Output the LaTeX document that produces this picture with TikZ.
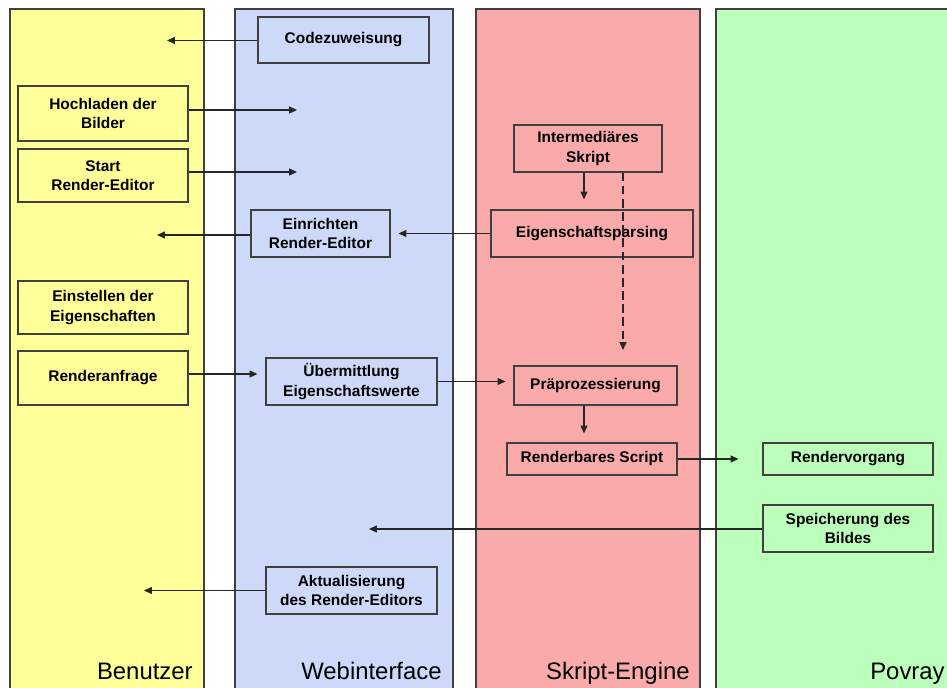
\documentclass[tikz,border=0pt]{standalone}
\usepackage{fontspec}
\setmainfont{Liberation Sans}
\usetikzlibrary{arrows.meta, positioning}
\definecolor{usercol}{RGB}{255,255,153}
\definecolor{webcol}{RGB}{204,217,248}
\definecolor{enginecol}{RGB}{250,170,170}
\definecolor{povcol}{RGB}{187,255,187}
\tikzset{
    lane/.style={draw=black!75, line width=0.6pt},
    box/.style={rectangle, draw=black!75, line width=0.6pt, align=center, inner sep=0pt, font=\fontsize{8.8}{11}\selectfont\bfseries},
    userbox/.style={box, fill=usercol},
    webbox/.style={box, fill=webcol},
    enginebox/.style={box, fill=enginecol},
    povbox/.style={box, fill=povcol},
    arrow/.style={-{Triangle[length=4.5pt,width=4pt]}, line width=0.6pt, draw=black!85},
    dashedarrow/.style={arrow, dash pattern=on 5pt off 2.5pt},
    lanelabel/.style={font=\fontsize{13.6}{16}\selectfont, inner sep=0pt, anchor=base east},
}
\begin{document}
\begin{tikzpicture}[x=0.02cm, y=-0.02cm]
    \useasboundingbox (0,0) rectangle (947,688);
    \clip (0,0) rectangle (947,688);
    % lanes
    \filldraw[lane, fill=usercol] (10,9) rectangle (204,700);
    \filldraw[lane, fill=webcol] (235,9) rectangle (453,700);
    \filldraw[lane, fill=enginecol] (476,9) rectangle (700,700);
    \filldraw[lane, fill=povcol] (716,9) rectangle (960,700);
    \node[lanelabel] (benutzer) at (193,680) {Benutzer};
    \node[lanelabel] (webinterface) at (442,680) {Webinterface};
    \node[lanelabel] (engine) at (690,680) {Skript-Engine};
    \node[lanelabel] (povray) at (945,680) {Povray};
    % Benutzer
    \node[userbox, minimum width=3.4cm, minimum height=1.1cm] (hochladen) at (103,113.5) {Hochladen der\\Bilder};
    \node[userbox, minimum width=3.4cm, minimum height=1.06cm] (start) at (103,175.5) {Start\\Render-Editor};
    \node[userbox, minimum width=3.4cm, minimum height=1.06cm] (einstellen) at (103,307.5) {Einstellen der\\Eigenschaften};
    \node[userbox, minimum width=3.4cm, minimum height=1.08cm] (anfrage) at (103,378) {Renderanfrage};
    % Webinterface
    \node[webbox, minimum width=3.42cm, minimum height=0.92cm] (code) at (343.5,40) {Codezuweisung};
    \node[webbox, minimum width=2.78cm, minimum height=0.94cm] (einrichten) at (320.5,233.5) {Einrichten\\Render-Editor};
    \node[webbox, minimum width=3.42cm, minimum height=0.94cm] (uebermittlung) at (351.5,381.5) {Übermittlung\\Eigenschaftswerte};
    \node[webbox, minimum width=3.42cm, minimum height=0.94cm] (aktual) at (351.5,590.5) {Aktualisierung\\des Render-Editors};
    % Skript-Engine
    \node[enginebox, minimum width=2.96cm, minimum height=0.94cm] (inter) at (588,148.5) {Intermediäres\\Skript};
    \node[enginebox, minimum width=4.04cm, minimum height=0.94cm] (parsing) at (592,233.5) {Eigenschaftsparsing};
    \node[enginebox, minimum width=3.26cm, minimum height=0.78cm] (prae) at (595.5,385.5) {Präprozessierung};
    \node[enginebox, minimum width=3.4cm, minimum height=0.64cm] (rscript) at (592,459) {Renderbares Script};
    % Povray
    \node[povbox, minimum width=3.4cm, minimum height=0.64cm] (rvorgang) at (848,459) {Rendervorgang};
    \node[povbox, minimum width=3.4cm, minimum height=0.94cm] (speicher) at (848,528.5) {Speicherung des\\Bildes};
    % free ends
    \coordinate (code-end) at (167,40.5);
    \coordinate (hochladen-end) at (297,110);
    \coordinate (start-end) at (297,172);
    \coordinate (einrichten-end) at (157,235);
    \coordinate (dash-end) at (623,350);
    \coordinate (speicher-end) at (369,529);
    \coordinate (aktual-end) at (144,591);
    % arrows
    \draw[arrow] (code.west |- code-end) -- (code-end);
    \draw[arrow] (hochladen.east |- hochladen-end) -- (hochladen-end);
    \draw[arrow] (start.east |- start-end) -- (start-end);
    \draw[arrow] (einrichten.west |- einrichten-end) -- (einrichten-end);
    \draw[arrow, shorten >=0.16cm] (parsing.west) -- (einrichten.east);
    \draw[arrow, shorten >=0.2cm] ([xshift=-0.08cm]inter.south) -- ([xshift=-0.08cm]inter.south |- parsing.north);
    \draw[dashedarrow] (inter.south -| dash-end) -- (dash-end);
    \draw[arrow, shorten >=0.16cm] ([yshift=0.08cm]anfrage.east) -- ([yshift=0.08cm]anfrage.east -| uebermittlung.west);
    \draw[arrow, shorten >=0.16cm] (uebermittlung.east) -- (uebermittlung.east -| prae.west);
    \draw[arrow, shorten >=0.18cm] ([xshift=-0.23cm]prae.south) -- ([xshift=-0.23cm]prae.south |- rscript.north);
    \draw[arrow, shorten >=0.48cm] (rscript.east) -- (rvorgang.west);
    \draw[arrow] (speicher.west |- speicher-end) -- (speicher-end);
    \draw[arrow] (aktual.west) -- (aktual.west -| aktual-end);
\end{tikzpicture}
\end{document}
